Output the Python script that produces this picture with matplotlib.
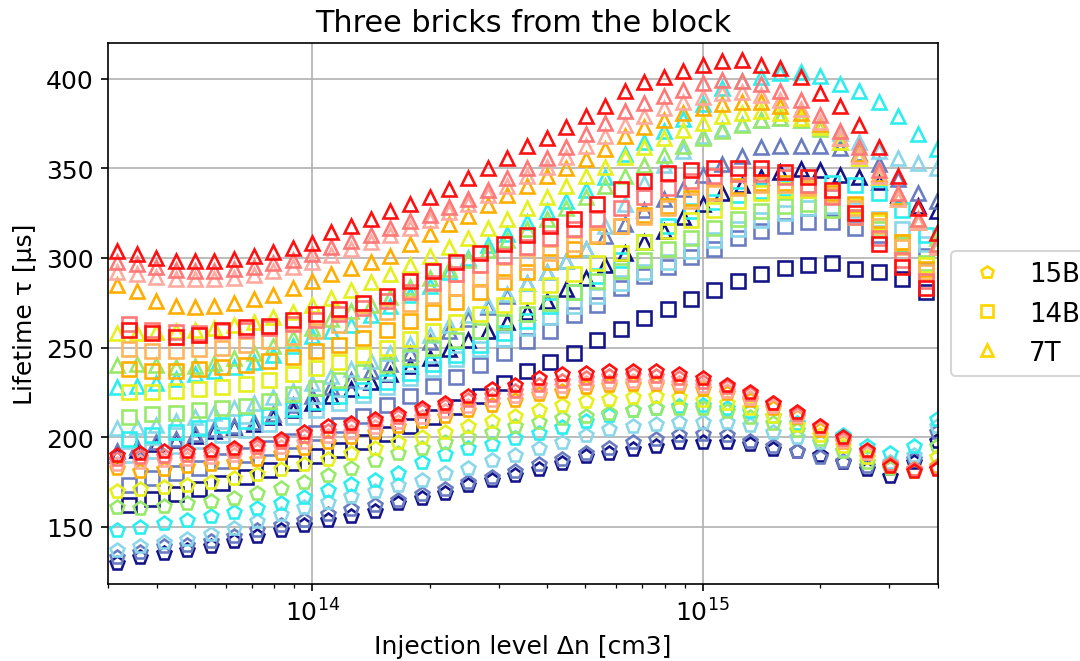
import matplotlib.pyplot as plt
from matplotlib.lines import Line2D

# injection levels (cm-3) for each brick
x_15b = [3.16e13, 3.63e13, 4.17e13, 4.79e13, 5.50e13, 6.31e13, 7.24e13, 8.32e13, 9.55e13,
         1.10e14, 1.26e14, 1.45e14, 1.66e14, 1.91e14, 2.19e14, 2.51e14, 2.88e14, 3.31e14,
         3.80e14, 4.37e14, 5.01e14, 5.75e14, 6.61e14, 7.59e14, 8.71e14, 1.00e15, 1.15e15,
         1.32e15, 1.51e15, 1.74e15, 2.00e15, 2.29e15, 2.63e15, 3.02e15, 3.47e15, 3.98e15]
x_14b = [3.39e13, 3.89e13, 4.47e13, 5.13e13, 5.89e13, 6.76e13, 7.76e13, 8.91e13, 1.02e14,
         1.17e14, 1.35e14, 1.55e14, 1.78e14, 2.04e14, 2.34e14, 2.69e14, 3.09e14, 3.55e14,
         4.07e14, 4.68e14, 5.37e14, 6.17e14, 7.08e14, 8.13e14, 9.33e14, 1.07e15, 1.23e15,
         1.41e15, 1.62e15, 1.86e15, 2.14e15, 2.45e15, 2.82e15, 3.24e15, 3.72e15]
x_7t = [3.16e13, 3.55e13, 3.98e13, 4.47e13, 5.01e13, 5.62e13, 6.31e13, 7.08e13, 7.94e13,
        8.91e13, 1.00e14, 1.12e14, 1.26e14, 1.41e14, 1.58e14, 1.78e14, 2.00e14, 2.24e14,
        2.51e14, 2.82e14, 3.16e14, 3.55e14, 3.98e14, 4.47e14, 5.01e14, 5.62e14, 6.31e14,
        7.08e14, 7.94e14, 8.91e14, 1.00e15, 1.12e15, 1.26e15, 1.41e15, 1.58e15, 1.78e15,
        2.00e15, 2.24e15, 2.51e15, 2.82e15, 3.16e15, 3.55e15, 3.98e15]

# 15B lifetimes (us)
b15_navy = [130, 133, 135.5, 137, 139, 142, 145, 148, 151, 153.5, 156, 159, 163, 166, 169, 173, 176, 179,
            182, 185.5, 189.5, 191, 193.5, 195, 197, 197.5, 197.5, 196, 193.5, 192, 190, 186, 182, 178.5, 186, 198]
b15_slate = [133, 136, 139, 140, 142, 145, 148, 151, 154, 157, 160, 162, 165, 168, 171, 175, 178, 181,
             185, 188, 191, 194, 197, 199, 201, 201.5, 201, 198, 195, 192.5, 189, 186.5, 184, 183, 188, 203]
b15_lblue = [137, 139, 141.5, 143, 146, 149, 153, 157, 161, 164, 167, 170, 173, 176, 180, 183, 187, 190,
             194, 197.5, 201, 204.5, 206, 207.5, 208.5, 208.5, 208.5, 206.5, 203, 200, 197, 193, 189, 186, 190, 206]
b15_cyan = [148, 150, 152, 154, 156, 158, 160.5, 163.5, 166.5, 170.5, 174, 176, 180, 186, 190.5, 194, 196, 199.5,
            202.5, 205.5, 209, 212.5, 215, 216.5, 217.5, 218, 216.5, 214.5, 212, 208, 205, 201, 195, 191, 195, 210]
b15_green = [161, 160.5, 161.5, 163, 164.5, 166, 169, 171.5, 175, 179, 183, 187, 191, 194, 197, 200, 203, 206,
             208.5, 210.5, 212, 213.5, 215, 216, 216.5, 216, 214.5, 211.5, 208, 204, 199, 192, 186, 182.5, 181, 195]
b15_yellow = [170, 171, 172, 173.5, 175, 177, 179.5, 182, 185, 188, 191, 194, 197, 200, 203, 206, 209, 212,
              215, 218, 220, 221.5, 222.5, 223, 222.5, 221, 219, 216, 212, 207, 201, 195, 189, 184, 182, 189]
b15_orange = [183, 181, 182, 184, 185, 186, 188, 191, 194, 197, 200, 203, 206, 209, 212, 215, 218, 221,
              224, 226, 228, 229, 229.5, 229.5, 228.5, 227, 224.5, 221, 216.5, 211, 204, 197, 191, 185, 182, 184]
b15_pink = [185, 186, 187, 188, 189, 190, 192, 194.5, 197.5, 200.5, 203, 205.5, 208.5, 211.5, 214.5, 217.5, 220.5, 223,
            226, 228.5, 230, 231, 231.5, 231, 230, 228.5, 226, 222, 217.5, 212, 205, 198, 191, 184.5, 181.5, 183]
b15_salmon = [188, 189, 189.5, 190, 191, 192.5, 194.5, 197, 200.5, 203.5, 206, 208.5, 211.5, 214.5, 217.5, 220.5, 223.5, 226,
              229, 231.5, 233, 234, 234.5, 234, 233, 231, 228, 224, 219, 213, 206, 199, 192, 185, 182, 183]
b15_red = [190, 191, 192, 192, 193, 194, 196, 199, 203, 206, 208, 210, 213, 216, 219, 223, 227, 229,
           233, 235, 236, 237, 237, 237, 235, 233, 229, 225, 219, 214, 206, 200, 193, 184, 181, 182]

# 14B lifetimes (us)
b14_navy = [162, 165.5, 168, 171, 174.5, 177.5, 181.5, 185.5, 189.5, 193, 197.5, 202, 206, 211, 217, 223, 230, 237,
            242, 247, 254, 260.5, 266.5, 271.5, 277, 282, 287, 291, 294.5, 296, 297, 294, 292, 288, 281]
b14_slate = [173, 177, 180, 183, 186.5, 190, 194, 198, 202.5, 206.5, 212, 218, 223, 228.5, 233.5, 240, 247, 253.5,
             259.5, 268, 274, 283, 290, 295, 300.5, 305, 311, 315, 318, 320, 320, 317, 313, 308, 301]
b14_lblue = [190, 192, 195, 198, 201, 204, 207.5, 211, 215, 219, 223.5, 228, 233, 238, 243.5, 249, 255, 261,
             267, 273, 279, 286, 292, 298, 304, 310, 316, 321, 325, 328, 329, 327, 322, 316, 308]
b14_cyan = [199, 201, 203, 205, 207, 209, 212, 215.5, 219.5, 223, 226.5, 231, 236, 241, 246, 251.5, 258, 265,
            273, 281, 290, 299, 309, 318, 326, 331, 335, 337.5, 339, 341, 342, 341, 336, 327, 313]
b14_green = [211, 213, 213.5, 215, 216, 217.5, 220, 224, 227.5, 232, 236.5, 240.5, 245, 249.5, 254, 259, 264, 269,
             275, 281, 287, 293, 299, 305, 311, 317, 322, 326, 329, 330, 327, 323, 316, 307, 297]
b14_yellow = [225, 225, 226, 227, 228, 229.5, 232, 235, 238.5, 242, 246, 250, 254.5, 259, 264, 269, 274, 279,
              285, 291, 297, 303, 309, 315, 321, 327, 332, 336, 338, 338, 335, 329, 320, 309, 296]
b14_orange = [238, 237, 237, 238, 239, 240.5, 242.5, 245, 248, 251.5, 255.5, 260, 265, 270, 275.5, 281, 286.5, 292,
              298, 305, 312, 318, 324, 329, 333.5, 337, 340, 342, 342, 340, 336, 330, 321, 309, 294]
b14_lorange = [249, 248, 248, 249, 250, 251.5, 253.5, 256, 259, 262.5, 266, 270, 274.5, 279, 283.5, 288, 293, 298,
               303, 308, 313, 318, 323, 328, 332, 336, 339, 341, 341, 339, 335, 328, 318, 306, 292]
b14_salmon = [263, 260, 258.5, 258, 259, 260, 261, 263, 265.5, 268.5, 272, 276, 281, 286, 291, 296, 301, 306,
              311, 316, 322, 328, 334, 339, 343, 346, 347, 347, 345, 341, 334, 323, 311, 299, 287]
b14_red = [260, 258, 256, 257, 260, 261.5, 262, 265.5, 268.5, 271.5, 275, 279, 287, 293, 298, 303, 308, 313,
           318, 322, 330, 338.5, 343, 347.5, 349, 350, 350.5, 350, 348, 345, 338, 325, 308, 295, 283]

# 7T lifetimes (us)
t7_navy = [190, 193, 196, 198.5, 200.5, 203.5, 205.5, 207.5, 211, 215, 219, 223, 227, 231, 235, 239.5, 244, 249,
           254, 259, 264.5, 270, 276, 282.5, 289, 296, 303, 309, 315, 323, 330, 336, 341, 345, 348, 349.5,
           349, 346.5, 345, 342.5, 335, 329, 326]
t7_slate = [192, 194.5, 197, 199, 201.5, 204.5, 206, 208.5, 213, 218, 223, 228, 232, 237, 241, 247, 253, 259.5,
            266, 272.5, 279, 286, 292, 298.5, 305, 312, 319, 327, 333, 338.5, 346.5, 352.5, 357, 362, 362.6, 362.6,
            362.6, 361.5, 358.5, 352.5, 344, 336, 332]
t7_lblue = [205, 205.5, 207, 209, 211, 213.5, 216, 219, 222.5, 226, 230, 234, 238, 242.5, 247, 252, 257, 262.5,
            268, 274, 280, 286, 292, 298.5, 305, 318, 330, 342, 352, 360, 368, 372, 375, 377, 378, 377,
            374, 370, 365, 360, 356, 353, 350]
t7_cyan = [228, 228.5, 230, 232.5, 235, 237, 239, 242, 246, 251, 256.5, 259.5, 262.5, 268, 273, 279.5, 284.5, 292,
           300, 307, 313.5, 320, 326, 332, 338, 345, 358, 365, 371, 377.5, 386, 395, 399, 401, 403, 404,
           401.5, 397, 393, 387, 379, 369, 361]
t7_green = [240, 241, 240, 239, 239.5, 241.5, 244, 247, 251, 255.5, 261, 266, 270.5, 274, 278, 284, 289, 294,
            299, 304.5, 310, 316, 322, 328, 334, 340, 346, 352, 357.5, 362.5, 367, 371, 374.5, 377, 378, 377,
            372, 365, 356, 345, 333, 322, 311]
t7_yellow = [258, 258, 258.5, 259, 260, 261, 262.5, 264.5, 267, 270, 273.5, 277.5, 282, 286.5, 291, 296, 301, 306,
             311, 316.5, 322, 328, 334, 340, 345.5, 351, 356.5, 362, 367, 371.5, 375.5, 379, 381, 382, 381, 378,
             373, 365, 356, 345, 333, 320, 308]
t7_orange = [285, 281.5, 276, 273, 272.8, 273, 275, 277, 279.5, 283.5, 287, 291, 294.5, 297.5, 301, 308, 313.5, 319,
             323.5, 329.5, 335, 340, 345.5, 350, 355, 361, 368, 373, 377, 381, 384, 386, 387, 387, 385, 381,
             375, 367, 358, 347, 334, 320, 306]
t7_pink = [292, 291, 289.5, 288.5, 288, 288, 289, 290.5, 292.5, 295, 298, 301.5, 305, 309, 313, 317, 321, 325.5,
           330, 335, 340, 345.5, 351, 356.5, 362.5, 368, 374, 379, 383.5, 387, 390, 392, 392.5, 391, 388, 383,
           376, 367, 357, 346, 333, 320, 306]
t7_salmon = [298, 296.5, 295, 293.5, 293, 293, 294, 295, 297, 299, 302, 306, 309.5, 313, 317, 320.5, 324, 328.5,
             333, 338, 344.5, 350, 356, 362, 369, 375.5, 382, 386.5, 390.5, 394, 397.5, 399.5, 399, 397, 393, 388,
             380, 371, 362, 349, 336, 322, 308]
t7_red = [304, 302, 300, 298.5, 298.5, 298.5, 299.5, 301, 303.5, 305.5, 308.5, 314.5, 318, 322, 326, 330, 334, 338.5,
          344.5, 350.5, 356, 362.5, 367, 373, 379, 385, 393, 398, 401, 404.5, 408, 410, 410.5, 407.5, 406, 401,
          392, 385, 374, 362, 346, 328, 314]

wafer_colors = ['#141488', '#6a7cc0', '#8ad7e9', '#2deeee', '#98e96a',
                '#e6f01c', '#ffae00', '#ffaaa0', '#ff7878', '#ff1010']
b15_series = [b15_navy, b15_slate, b15_lblue, b15_cyan, b15_green,
              b15_yellow, b15_orange, b15_pink, b15_salmon, b15_red]
b14_series = [b14_navy, b14_slate, b14_lblue, b14_cyan, b14_green,
              b14_yellow, b14_orange, b14_lorange, b14_salmon, b14_red]
t7_series = [t7_navy, t7_slate, t7_lblue, t7_cyan, t7_green,
             t7_yellow, t7_orange, t7_pink, t7_salmon, t7_red]
b14_colors = wafer_colors[:7] + ['#ffb45a'] + wafer_colors[8:]

plt.rcParams['font.size'] = 12

fig = plt.figure(figsize=(7.2, 4.4133), dpi=150)
ax = fig.add_subplot(111)
fig.subplots_adjust(left=0.1, right=0.8685, top=0.9335, bottom=0.1163)

for i in range(len(wafer_colors)):
    ax.plot(x_15b, b15_series[i], ls='none', marker='p', ms=7, mfc='none',
            mec=wafer_colors[i], mew=1.25)
    ax.plot(x_14b, b14_series[i], ls='none', marker='s', ms=6.5, mfc='none',
            mec=b14_colors[i], mew=1.25)
    ax.plot(x_7t, t7_series[i], ls='none', marker='^', ms=7, mfc='none',
            mec=wafer_colors[i], mew=1.25)

ax.set_xscale('log')
ax.set_xlim(3e13, 4e15)
ax.set_ylim(118, 420)
ax.grid(True)
ax.set_title('Three bricks from the block', fontsize=14.5)
ax.set_xlabel('Injection level Δn [cm3]')
ax.set_ylabel('Lifetime τ [µs]')

handles = [Line2D([], [], ls='none', marker=m, ms=6, mfc='none', mec='gold', mew=1.3)
           for m in ['p', 's', '^']]
ax.legend(handles, ['15B', '14B', '7T'], loc='center left', bbox_to_anchor=(1, 0.5),
          fontsize=12.5, handletextpad=0.6)

plt.savefig('out.png', dpi=150)
